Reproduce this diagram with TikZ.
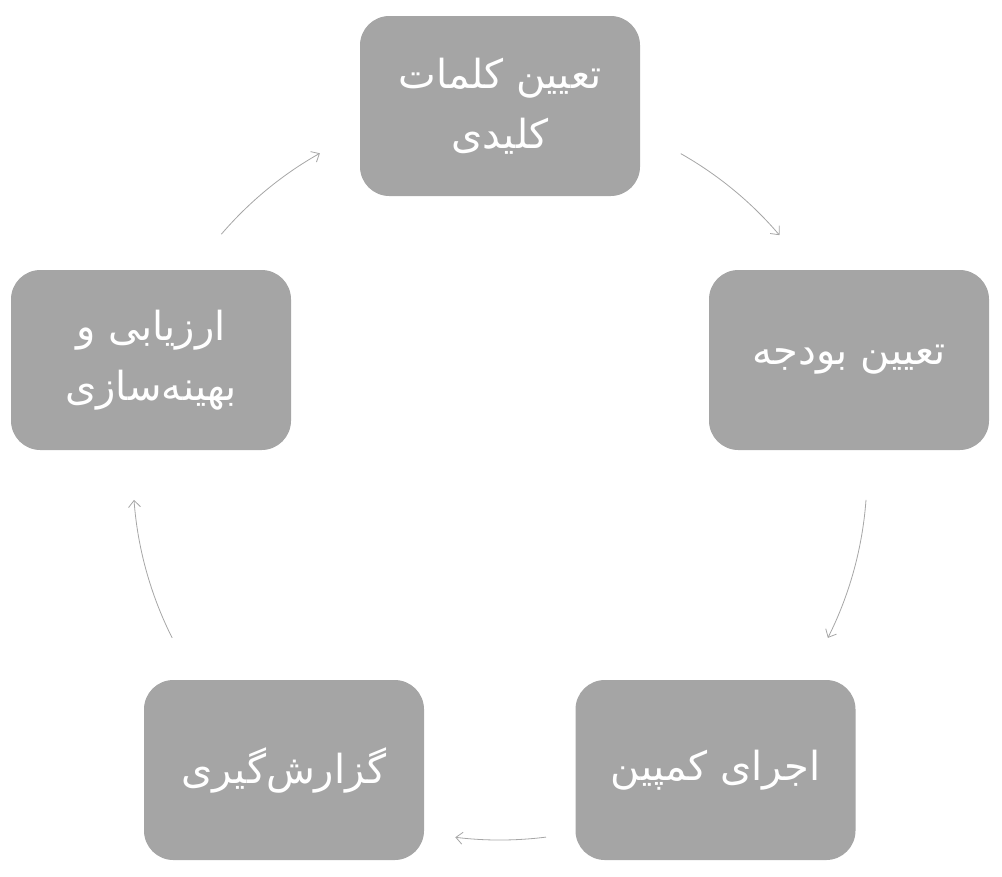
\documentclass[tikz,border=0pt]{standalone}
\usepackage{fontspec}
\newfontfamily\arabicfont[Script=Arabic]{DejaVu Sans}
\TeXXeTstate=1
\usetikzlibrary{arrows.meta,calc}
\definecolor{boxgray}{HTML}{A5A5A5}
\definecolor{arrgray}{HTML}{A6A6A6}
\begin{document}
\begin{tikzpicture}[x=0.75pt,y=0.75pt,
  stepbox/.style={fill=boxgray, rounded corners=22pt, minimum width=210pt, minimum height=135pt, inner sep=0pt, text=white, font=\arabicfont\fontsize{30}{45}\selectfont, align=center},
  cyc/.style={draw=arrgray, line width=0.6pt, -{Straight Barb[length=5pt,width=9pt]}}]
\useasboundingbox (0,0) rectangle (1002,-876);
\coordinate (c) at (500,-473);
\node[stepbox] (top) at (500,-106) {\beginR تعیین کلمات\endR\\\beginR کلیدی\endR};
\node[stepbox] (right) at (849,-360) {\beginR تعیین بودجه\endR};
\node[stepbox] (br) at (715.5,-770) {\beginR اجرای کمپین\endR};
\node[stepbox] (bl) at (284,-770) {\beginR گزارش‌گیری\endR};
\node[stepbox] (left) at (151,-360) {\beginR ارزیابی و\endR\\\beginR بهینه‌سازی\endR};
\coordinate (s1) at ($(c)+(60.5:367)$);
\coordinate (s2) at ($(c)+(-4.2:367)$);
\coordinate (s3) at ($(c)+(-82.8:367)$);
\coordinate (s4) at ($(c)+(-153.3:367)$);
\coordinate (s5) at ($(c)+(139.4:367)$);
\draw[cyc] (s1) arc[start angle=60.5, end angle=40.4, radius=367];
\draw[cyc] (s2) arc[start angle=-4.2, end angle=-26.7, radius=367];
\draw[cyc] (s3) arc[start angle=-82.8, end angle=-97, radius=367];
\draw[cyc] (s4) arc[start angle=-153.3, end angle=-175.8, radius=367];
\draw[cyc] (s5) arc[start angle=139.4, end angle=119.4, radius=367];
\end{tikzpicture}
\end{document}
